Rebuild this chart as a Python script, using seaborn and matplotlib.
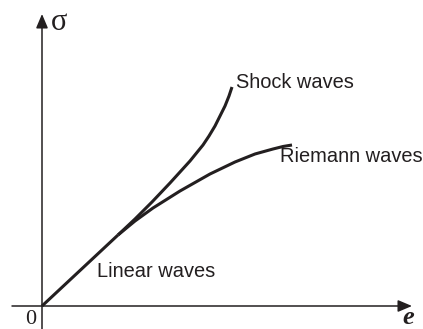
import matplotlib
matplotlib.use("Agg")
import matplotlib.pyplot as plt
import pandas as pd
import seaborn as sns

# Stress-strain curves (strain e, stress sigma), origin at the axes crossing
linear_e = [0, 76]
linear_sigma = [0, 71]

shock_e = [76, 93, 110, 128, 148, 161, 167, 173, 178, 183, 187, 190]
shock_sigma = [71, 87, 104, 123, 145, 161, 170, 180, 190, 200, 210, 219]

riemann_e = [76, 93, 111, 138, 168, 193, 213, 231, 241, 250]
riemann_sigma = [71, 85, 98, 115, 132, 144, 152, 157, 159.5, 161]

labels = ["Linear waves", "Shock waves", "Riemann waves"]

INK = "#231f20"

frames = []
for name, xs, ys in [(labels[0], linear_e, linear_sigma),
                     (labels[1], shock_e, shock_sigma),
                     (labels[2], riemann_e, riemann_sigma)]:
    frames.append(pd.DataFrame({"e": xs, "sigma": ys, "branch": name}))
df = pd.concat(frames, ignore_index=True)

sns.set_style("white")
fig = plt.figure(figsize=(4.23, 3.29), dpi=100)
ax = fig.add_axes([0, 0, 1, 1])
ax.set_xlim(-42, 381)
ax.set_ylim(-23, 306)
ax.axis("off")

sns.lineplot(data=df, x="e", y="sigma", units="branch", estimator=None,
             sort=False, color=INK, lw=2.2, ax=ax, legend=False,
             solid_capstyle="butt", solid_joinstyle="round")

# Axes with arrow heads
arrow = dict(arrowstyle="-|>,head_length=0.85,head_width=0.36",
             mutation_scale=10, color=INK, lw=1.1, shrinkA=0, shrinkB=0)
ax.annotate("", xy=(370, 0), xytext=(-30, 0), arrowprops=arrow)
ax.annotate("", xy=(0, 292), xytext=(0, -23), arrowprops=arrow)

sans = ["Liberation Sans", "DejaVu Sans"]
serif = ["Liberation Serif", "DejaVu Serif"]
fs = 14.4

ax.text(55, 29, labels[0], fontsize=fs, family=sans, color=INK, va="baseline")
ax.text(194, 218, labels[1], fontsize=fs, family=sans, color=INK, va="baseline")
ax.text(238, 144, labels[2], fontsize=fs, family=sans, color=INK, va="baseline")

ax.text(-11, -23, "0", fontsize=16, family=serif, color=INK, ha="center", va="bottom")
ax.text(9, 276, "σ", fontsize=22, family=serif, color=INK, va="baseline")
ax.text(360, -23, "e", fontsize=19, family=serif, style="italic",
        weight="bold", color=INK, va="bottom")

fig.savefig("out.png", dpi=100)
